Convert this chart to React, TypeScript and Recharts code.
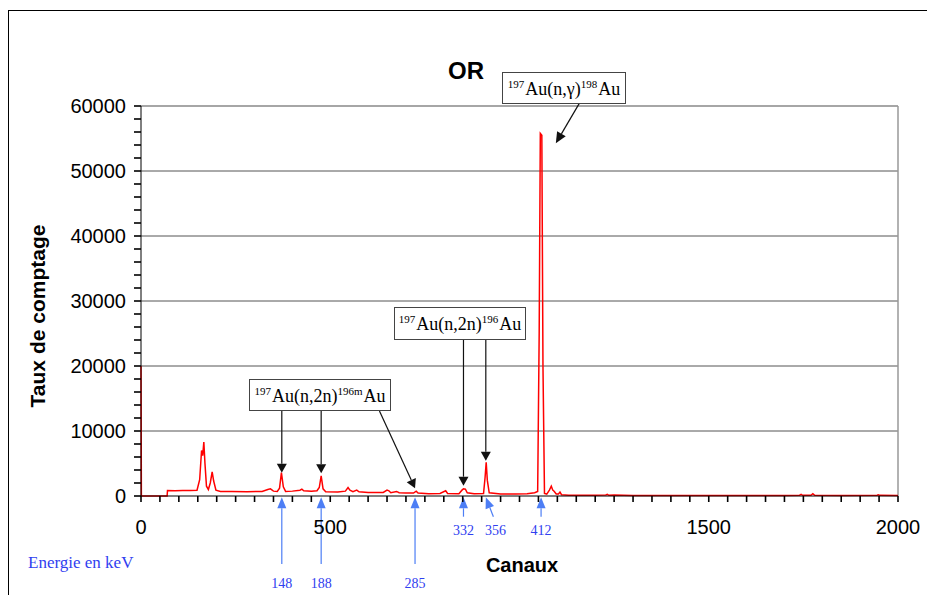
import React from 'react';
import { LineChart, Line, XAxis, YAxis, ReferenceLine } from 'recharts';

// spectrum (channel -> counts)
const channels = [
  0, 1, 69, 70, 90, 110, 130, 148, 155, 160, 163, 166, 169, 173, 178, 183, 188, 192, 198, 210,
  240, 280, 320, 335, 342, 350, 360, 366, 371, 376, 382, 400, 420, 425, 430, 450, 465, 471, 476, 481,
  488, 520, 540, 547, 552, 560, 570, 576, 600, 640, 650, 655, 660, 675, 682, 700, 720, 727, 732, 760,
  790, 805, 810, 840, 848, 852, 857, 862, 880, 905, 909, 912, 915, 920, 950, 990, 1020, 1040, 1048, 1052,
  1055, 1059, 1062, 1066, 1072, 1079, 1084, 1088, 1092, 1097, 1103, 1107, 1111, 1130, 1200, 1228, 1232, 1236, 1250, 1300,
  1400, 1500, 1600, 1700, 1740, 1744, 1748, 1770, 1775, 1780, 1850, 1945, 1948, 1952, 2000,
];
const counts = [
  20000, 0, 0, 850, 820, 830, 860, 900, 2500, 7000, 6200, 8300, 5000, 1500, 1000, 2000, 3700, 2300, 900, 700,
  680, 650, 700, 1000, 1100, 750, 700, 1200, 3600, 1400, 700, 750, 900, 1050, 800, 750, 800, 1300, 3100, 1100,
  650, 600, 750, 1300, 900, 650, 900, 650, 550, 550, 900, 800, 500, 700, 500, 450, 450, 750, 450, 350,
  400, 800, 400, 350, 900, 1100, 1050, 500, 350, 400, 2800, 5200, 2400, 500, 300, 300, 350, 500, 700, 25000,
  55800, 55500, 20000, 400, 300, 900, 1500, 900, 700, 300, 300, 600, 200, 100, 100, 150, 250, 100, 150, 80,
  80, 80, 80, 90, 120, 250, 100, 120, 350, 120, 80, 120, 200, 100, 80,
];
const spectrum = channels.map((ch, i) => ({ ch, c: counts[i] }));

const yMajor = [0, 10000, 20000, 30000, 40000, 50000, 60000];
const yTicks = Array.from({ length: 31 }, (_, i) => i * 2000);
const xTicks = Array.from({ length: 41 }, (_, i) => i * 50);
const xLabels = [0, 500, 1500, 2000];

// energies (keV) and the channel they sit at
const energies = [148, 188, 285, 332, 356, 412];
const energyChannels = [372, 476, 724, 852, 911, 1057];
const energyTail = [-10460, -10460, -10460, -3185, -3185, -3185];
const energyTailCh = [372, 476, 724, 852, 931, 1057];

// black arrows from the boxes: [fromCh, fromCount, toCh, toCount]
const peakArrows = [
  [1158, 60400, 1096, 54260],
  [372, 13080, 372, 3585],
  [476, 13080, 476, 3490],
  [630, 13080, 724, 1185],
  [852, 24000, 852, 1585],
  [911, 24000, 911, 5430],
];

const sans = '"Liberation Sans", Arial, sans-serif';
const serif = '"Liberation Serif", "Times New Roman", serif';
const blueText = '#3040f0';
const blueArrow = '#4d7ef5';

const arrowShape = (color: string, len: number, half: number, label?: string, ldx = 0, ldy = 0) => (p: any) => {
  const { x1, y1, x2, y2 } = p;
  const dx = x2 - x1;
  const dy = y2 - y1;
  const d = Math.hypot(dx, dy) || 1;
  const ux = dx / d;
  const uy = dy / d;
  const bx = x2 - ux * len;
  const by = y2 - uy * len;
  const pts = `${x2},${y2} ${bx - uy * half},${by + ux * half} ${bx + uy * half},${by - ux * half}`;
  return (
    <g>
      <line x1={x1} y1={y1} x2={bx} y2={by} stroke={color} strokeWidth={1.2} />
      <polygon points={pts} fill={color} />
      {label && (
        <text x={x1 + ldx} y={y1 + ldy} textAnchor="middle" fontFamily={serif} fontSize={14} fill={blueText}>
          {label}
        </text>
      )}
    </g>
  );
};

const boxStyle: React.CSSProperties = {
  position: 'absolute',
  boxSizing: 'border-box',
  border: '1.5px solid #444',
  background: '#fff',
  fontFamily: serif,
  fontSize: 18,
  lineHeight: 1,
  display: 'flex',
  alignItems: 'center',
  justifyContent: 'center',
  whiteSpace: 'nowrap',
};
const supStyle: React.CSSProperties = { fontSize: 11, verticalAlign: '7px', marginRight: 1 };

const App = () => {
  return (
    <div style={{ position: 'absolute', left: 0, top: 0, width: 927, height: 595, overflow: 'hidden', background: '#fff' }}>
      <div
        style={{ position: 'absolute', left: 8, top: 10, width: 940, height: 620, border: '1.5px solid #000', boxSizing: 'border-box' }}
      />
      <svg width={927} height={595} style={{ position: 'absolute', left: 0, top: 0, pointerEvents: 'none' }}>
        <text x={466} y={79} textAnchor="middle" fontFamily={sans} fontWeight="bold" fontSize={24}>
          OR
        </text>
        <text x={522} y={572} textAnchor="middle" fontFamily={sans} fontWeight="bold" fontSize={20}>
          Canaux
        </text>
        <text
          x={45}
          y={316}
          transform="rotate(-90 45 316)"
          textAnchor="middle"
          fontFamily={sans}
          fontWeight="bold"
          fontSize={21}
        >
          Taux de comptage
        </text>
        <text x={28} y={568} fontFamily={serif} fontSize={17} fill={blueText}>
          Energie en keV
        </text>
      </svg>
      <div style={{ position: 'absolute', left: 0, top: 0 }}>
        <LineChart width={927} height={595} data={spectrum} margin={{ top: 106, right: 29, bottom: 69, left: 0 }}>
          <XAxis
            type="number"
            dataKey="ch"
            domain={[0, 2000]}
            ticks={xTicks}
            interval={0}
            tickSize={6}
            tickMargin={18}
            tickLine={{ stroke: '#000', strokeWidth: 1.6 }}
            tick={{ fill: '#000', fontSize: 20, fontFamily: sans }}
            tickFormatter={(v: number) => (xLabels.includes(v) ? String(v) : '')}
            height={30}
            axisLine={{ stroke: '#000' }}
          />
          <YAxis
            type="number"
            domain={[0, 60000]}
            ticks={yTicks}
            interval={0}
            tickSize={7}
            tickMargin={8}
            tickLine={{ stroke: '#000', strokeWidth: 1.6 }}
            tick={{ fill: '#000', fontSize: 20, fontFamily: sans }}
            tickFormatter={(v: number) => (yMajor.includes(v) ? String(v) : '')}
            width={141}
            axisLine={{ stroke: '#000' }}
          />
          {yMajor.slice(1, 6).map((v) => (
            <ReferenceLine key={v} y={v} stroke="#555" strokeWidth={1} />
          ))}
          <ReferenceLine y={60000} stroke="#888" strokeWidth={1.5} />
          <ReferenceLine x={2000} stroke="#999" strokeWidth={1.5} />
          <Line
            type="linear"
            dataKey="c"
            stroke="#ff0000"
            strokeWidth={1.5}
            dot={false}
            isAnimationActive={false}
          />
          {peakArrows.map((a, i) => (
            <ReferenceLine
              key={'p' + i}
              ifOverflow="visible"
              segment={[
                { x: a[0], y: a[1] },
                { x: a[2], y: a[3] },
              ]}
              shape={arrowShape('#111', i === 0 ? 11 : 9, 5)}
            />
          ))}
          {energies.map((e, i) => (
            <ReferenceLine
              key={'e' + e}
              ifOverflow="visible"
              segment={[
                { x: energyTailCh[i], y: energyTail[i] },
                { x: energyChannels[i], y: -200 },
              ]}
              shape={arrowShape(blueArrow, 11, 4.5, String(e), i === 4 ? 2 : 0, energyTail[i] < -5000 ? 24 : 18)}
            />
          ))}
        </LineChart>
      </div>
      <div style={{ ...boxStyle, left: 502, top: 72, width: 124, height: 32 }}>
        <span>
          <span style={supStyle}>197</span>Au(n,γ)<span style={supStyle}>198</span>Au
        </span>
      </div>
      <div style={{ ...boxStyle, left: 394, top: 307, width: 132, height: 33 }}>
        <span>
          <span style={supStyle}>197</span>Au(n,2n)<span style={supStyle}>196</span>Au
        </span>
      </div>
      <div style={{ ...boxStyle, left: 249, top: 379, width: 142, height: 32 }}>
        <span>
          <span style={supStyle}>197</span>Au(n,2n)<span style={supStyle}>196m</span>Au
        </span>
      </div>
    </div>
  );
};

export default App;
